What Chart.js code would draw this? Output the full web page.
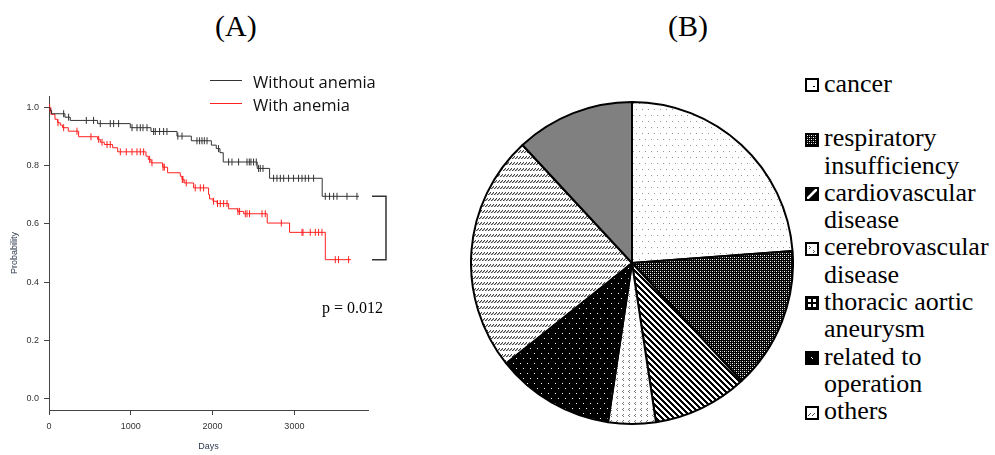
<!DOCTYPE html>
<html lang="en">
<head>
<meta charset="UTF-8">
<title>Survival by anemia and causes of death</title>
<style>
  body { margin: 0; background: #fff; width: 995px; height: 455px; position: relative; overflow: hidden; }
  .panel-title { position: absolute; top: 11px; font-family: "Liberation Serif", "Times New Roman", serif; font-size: 30px; line-height: 30px; color: #000; }
  #km { position: absolute; left: 0; top: 60px; }
  #pie { position: absolute; left: 470px; top: 101px; }
  .km-line { position: absolute; left: 210px; width: 32px; height: 1px; }
  .km-text { position: absolute; left: 253px; font-family: "Open Sans", sans-serif; font-size: 16.5px; line-height: 22px; color: #111; white-space: nowrap; }
  #pval { position: absolute; left: 322px; top: 299.5px; font-family: "Liberation Serif", serif; font-size: 16px; line-height: 16px; color: #000; }
  .pie-swatch { position: absolute; left: 805px; width: 14px; height: 14px; }
  .pie-text { position: absolute; left: 824px; width: 171px; font-family: "Liberation Serif", serif; font-size: 26px; line-height: 27.5px; color: #000; }
</style>
</head>
<body>
<div class="panel-title" style="left:215px">(A)</div>
<div class="panel-title" style="left:668px">(B)</div>
<canvas id="km" width="400" height="395"></canvas>
<canvas id="pie" width="324" height="324"></canvas>
<div id="km-legend"></div>
<div id="pval">p = 0.012</div>
<div id="pie-legend"></div>

<script src="https://cdn.jsdelivr.net/npm/chart.js"></script>
<script>
// (A) Kaplan-Meier steps: days and survival level after each drop
const noAnemiaDays = [0, 12, 30, 195, 260, 594, 994, 1247, 1565, 1740, 1985, 2045, 2090, 2130, 2545, 2697, 3340, 3790];
const noAnemiaSurv = [1.0, 0.990, 0.979, 0.967, 0.956, 0.945, 0.931, 0.918, 0.902, 0.886, 0.871, 0.859, 0.845, 0.813, 0.791, 0.757, 0.695, 0.695];
const noAnemiaCensor = [179, 240, 456, 545, 627, 749, 790, 851, 1015, 1076, 1116, 1149, 1198, 1279, 1300, 1352, 1401, 1442,
  1575, 1626, 1809, 1841, 1870, 1899, 1932, 2073, 2196, 2237, 2318, 2421, 2449, 2469, 2501, 2534, 2562, 2583, 2616,
  2746, 2787, 2828, 2869, 2929, 2990, 3051, 3093, 3133, 3174, 3235, 3378, 3430, 3480, 3521, 3643, 3765];

const anemiaDays = [0, 16, 32, 73, 105, 138, 166, 236, 362, 594, 627, 676, 778, 839, 1186, 1214, 1247, 1389, 1450, 1605,
  1626, 1654, 1768, 1951, 1963, 2005, 2054, 2196, 2306, 2379, 2668, 2941, 3378, 3692];
const anemiaSurv = [1.0, 0.988, 0.977, 0.960, 0.948, 0.940, 0.931, 0.919, 0.900, 0.891, 0.881, 0.873, 0.862, 0.848, 0.833,
  0.822, 0.810, 0.795, 0.776, 0.764, 0.753, 0.741, 0.724, 0.701, 0.686, 0.678, 0.670, 0.652, 0.643, 0.635, 0.603, 0.571, 0.477, 0.477];
const anemiaCensor = [8, 24, 110, 179, 342, 513, 607, 648, 709, 749, 872, 945, 1015, 1076, 1116, 1157, 1230, 1259, 1394, 1410,
  1630, 1638, 1678, 1788, 1850, 1890, 2012, 2060, 2094, 2135, 2176, 2310, 2330, 2400, 2421, 2452, 2604, 2644, 2840,
  3093, 3105, 3194, 3256, 3296, 3337, 3500, 3540, 3663];

const seriesNames = ['Without anemia', 'With anemia'];
const seriesColors = ['#333333', '#ff2020'];
const xTicks = [0, 1000, 2000, 3000];
const yTicks = [0.0, 0.2, 0.4, 0.6, 0.8, 1.0];

// (B) causes of death
const causes = ['cancer', 'respiratory insufficiency', 'cardiovascular disease', 'cerebrovascular disease',
  'thoracic aortic aneurysm', 'related to operation', 'others'];
const deaths = [10, 6, 4, 2, 5, 10, 5];

// survival level at a censoring time (level of the step it sits on)
function levelAt(days, surv, t) {
  let s = surv[0];
  for (let i = 0; i < days.length; i++) {
    if (days[i] <= t) s = surv[i];
  }
  return s;
}

Chart.defaults.font.family = '"Liberation Sans", Arial, sans-serif';
Chart.defaults.font.size = 9;
Chart.defaults.color = '#333';

const kmSets = [];
[[noAnemiaDays, noAnemiaSurv], [anemiaDays, anemiaSurv]].forEach((d, i) => {
  kmSets.push({
    label: seriesNames[i],
    data: d[0].map((t, j) => ({ x: t, y: d[1][j] })),
    showLine: true,
    stepped: 'before',
    borderColor: seriesColors[i],
    borderWidth: 1,
    pointRadius: 0
  });
});
[[noAnemiaCensor, noAnemiaDays, noAnemiaSurv], [anemiaCensor, anemiaDays, anemiaSurv]].forEach((d, i) => {
  kmSets.push({
    label: seriesNames[i] + ' censored',
    data: d[0].map(t => ({ x: t, y: levelAt(d[1], d[2], t) })),
    showLine: false,
    pointStyle: 'line',
    pointRotation: 90,
    pointRadius: 3.5,
    pointBorderWidth: 1,
    pointBorderColor: seriesColors[i],
    borderColor: seriesColors[i]
  });
});

// bracket joining the two curve ends
const bracket = {
  id: 'bracket',
  afterDraw(chart) {
    const ctx = chart.ctx;
    const y = chart.scales.y;
    const yTop = y.getPixelForValue(noAnemiaSurv[noAnemiaSurv.length - 1]);
    const yBot = y.getPixelForValue(anemiaSurv[anemiaSurv.length - 1]);
    const xr = chart.chartArea.right;
    ctx.save();
    ctx.strokeStyle = '#333';
    ctx.lineWidth = 1.5;
    ctx.beginPath();
    ctx.moveTo(xr + 4, yTop);
    ctx.lineTo(xr + 18, yTop);
    ctx.lineTo(xr + 18, yBot);
    ctx.lineTo(xr + 4, yBot);
    ctx.stroke();
    ctx.restore();
  }
};

new Chart(document.getElementById('km'), {
  type: 'scatter',
  data: { datasets: kmSets },
  plugins: [bracket],
  options: {
    responsive: false,
    animation: false,
    events: [],
    layout: { padding: { top: 36, right: 32, left: 0, bottom: 0 } },
    plugins: { legend: { display: false }, tooltip: { enabled: false } },
    scales: {
      x: {
        type: 'linear',
        min: 0,
        max: 3900,
        afterFit: s => { s.height = 45; },
        afterBuildTicks: s => { s.ticks = xTicks.map(v => ({ value: v })); },
        ticks: { padding: 6, callback: v => String(v), maxRotation: 0 },
        grid: { drawOnChartArea: false, tickLength: 5, color: '#444' },
        border: { color: '#444' },
        title: { display: true, text: 'Days', color: '#2f3a4f', padding: { top: 0, bottom: 3 }, font: { size: 9 } }
      },
      y: {
        min: -0.04,
        max: 1.04,
        afterFit: s => { s.width = 49; },
        afterBuildTicks: s => { s.ticks = yTicks.map(v => ({ value: v })); },
        ticks: { padding: 5, callback: v => v.toFixed(1) },
        grid: { drawOnChartArea: false, tickLength: 5, color: '#444' },
        border: { color: '#444' },
        title: { display: true, text: 'Probability', color: '#2f3a4f', padding: { top: 9, bottom: 0 }, font: { size: 9 } }
      }
    }
  }
});

// legend (A)
const kmLegend = document.getElementById('km-legend');
seriesNames.forEach((name, i) => {
  const line = document.createElement('div');
  line.className = 'km-line';
  line.style.top = (80 + i * 22.5) + 'px';
  line.style.background = seriesColors[i];
  kmLegend.appendChild(line);
  const txt = document.createElement('div');
  txt.className = 'km-text';
  txt.style.top = (70.5 + i * 23) + 'px';
  txt.textContent = name;
  kmLegend.appendChild(txt);
});

// fill patterns for the pie
function tile(w, h, bg, draw) {
  const c = document.createElement('canvas');
  c.width = w; c.height = h;
  const g = c.getContext('2d');
  g.fillStyle = bg;
  g.fillRect(0, 0, w, h);
  if (draw) draw(g);
  return c;
}
function dots(g, color, pts) {
  g.fillStyle = color;
  pts.forEach(p => g.fillRect(p[0], p[1], 1, 1));
}
function stripes(g, n, color) {
  g.fillStyle = color;
  for (let y = 0; y < n; y++)
    for (let x = 0; x < n; x++)
      if (((x - y) % n + n) % n < n / 2) g.fillRect(x, y, 1, 1);
}

const tiles = [
  tile(6, 12, '#fff', g => dots(g, '#999', [[1, 2], [4, 8]])),
  tile(4, 4, '#000', g => { dots(g, '#fff', [[0, 0], [2, 2]]); dots(g, '#888', [[2, 0], [0, 2]]); }),
  tile(6, 6, '#fff', g => stripes(g, 6, '#000')),
  tile(6, 6, '#fff', g => dots(g, '#777', [[3, 1], [2, 2], [3, 3]])),
  tile(7, 10, '#000', g => dots(g, '#fff', [[1, 2], [4, 7]])),
  tile(3, 6, '#fff', g => { dots(g, '#444', [[2, 1], [1, 2], [0, 3]]); dots(g, '#aaa', [[2, 2], [1, 3]]); }),
  tile(1, 1, '#808080')
];

const pieCtx = document.getElementById('pie').getContext('2d');
const fills = tiles.map(t => pieCtx.createPattern(t, 'repeat'));

new Chart(pieCtx, {
  type: 'pie',
  data: {
    labels: causes,
    datasets: [{
      data: deaths,
      backgroundColor: fills,
      borderColor: '#000',
      borderWidth: 2
    }]
  },
  options: {
    responsive: false,
    animation: false,
    events: [],
    layout: { padding: 0 },
    plugins: { legend: { display: false }, tooltip: { enabled: false } }
  }
});

// legend (B) swatches, drawn like the small boxes in the picture
const swatchDraw = [
  g => { g.fillStyle = '#fff'; g.fillRect(0, 0, 14, 14); dots(g, '#000', [[8, 8], [9, 8]]); },
  g => { g.fillStyle = g.createPattern(tiles[1], 'repeat'); g.fillRect(0, 0, 14, 14); },
  g => { g.fillStyle = '#000'; g.fillRect(0, 0, 14, 14); g.strokeStyle = '#fff'; g.lineWidth = 2.5; g.beginPath(); g.moveTo(1, 13); g.lineTo(13, 1); g.stroke(); },
  g => { g.fillStyle = '#fff'; g.fillRect(0, 0, 14, 14); dots(g, '#555', [[4, 4], [5, 5], [4, 6], [8, 8], [9, 9], [8, 10]]); },
  g => { g.fillStyle = '#000'; g.fillRect(0, 0, 14, 14); g.fillStyle = '#fff'; g.fillRect(3, 3, 3, 3); g.fillRect(8, 3, 3, 3); g.fillRect(3, 8, 3, 3); g.fillRect(8, 8, 3, 3); },
  g => { g.fillStyle = '#000'; g.fillRect(0, 0, 14, 14); dots(g, '#fff', [[6, 6], [7, 7]]); },
  g => { g.fillStyle = '#fff'; g.fillRect(0, 0, 14, 14); g.strokeStyle = '#444'; g.lineWidth = 1; g.beginPath(); g.moveTo(3, 10); g.lineTo(6, 7); g.moveTo(7, 10); g.lineTo(10, 7); g.stroke(); }
];

const pieLegend = document.getElementById('pie-legend');
causes.forEach((name, i) => {
  const sw = document.createElement('canvas');
  sw.className = 'pie-swatch';
  sw.width = 14; sw.height = 14;
  sw.style.top = (78 + i * 54.6) + 'px';
  const g = sw.getContext('2d');
  swatchDraw[i](g);
  g.strokeStyle = '#000';
  g.lineWidth = 2;
  g.strokeRect(1, 1, 12, 12);
  pieLegend.appendChild(sw);
  const txt = document.createElement('div');
  txt.className = 'pie-text';
  txt.style.top = (69.5 + i * 54.6) + 'px';
  txt.style.fontFamily = '"Liberation Serif", serif';
  txt.textContent = name;
  pieLegend.appendChild(txt);
});
</script>
</body>
</html>
